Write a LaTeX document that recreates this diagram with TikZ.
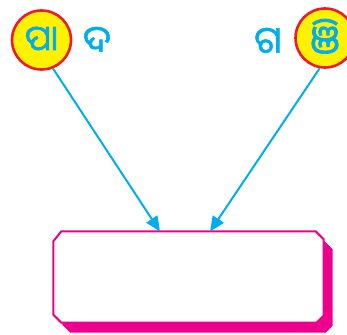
\documentclass[tikz,border=0pt]{standalone}
\usepackage{fontspec}
\newfontfamily\oriya[Script=Oriya,AutoFakeBold=1.6]{Noto Sans Oriya UI}
\usetikzlibrary{arrows.meta}
\definecolor{cy}{HTML}{00AEEF}
\definecolor{mg}{HTML}{EC008C}
\definecolor{rd}{HTML}{ED1C24}
\definecolor{yl}{HTML}{FFF200}
\tikzset{
  ball/.style={circle, draw=rd, fill=yl, line width=2.6pt, minimum size=59pt, inner sep=0pt, text=cy, font=\oriya\bfseries\fontsize{35}{35}\selectfont},
  bigball/.style={ball, font=\oriya\bfseries\fontsize{40}{40}\selectfont},
  letter/.style={text=cy, inner sep=0pt, font=\oriya\bfseries\fontsize{37}{37}\selectfont},
  link/.style={draw=cy, line width=2pt, -{Triangle[length=15pt,width=13pt]}},
  frame/.style={inner sep=0pt, minimum width=270pt, minimum height=91pt},
  framepath/.style={draw=mg, line width=2pt, fill=white, line join=miter},
  shadowpath/.style={fill=mg, transform canvas={shift={(9pt,-10pt)}}}
}
\newcommand\chamfpath[1]{([xshift=8pt]#1.north west) -- ([xshift=-8pt]#1.north east) -- ([yshift=-8pt]#1.north east) -- ([yshift=7pt]#1.south east) -- ([xshift=-7pt]#1.south east) -- ([xshift=8pt]#1.south west) -- ([yshift=8pt]#1.south west) -- ([yshift=-10pt]#1.north west) -- cycle}
\begin{document}
\begin{tikzpicture}[x=1pt,y=-1pt]
\useasboundingbox (0,0) rectangle (347,334);
\node[ball] (lc) at (41.5,40) {ପା};
\node[bigball] (rc) at (325,38) {ଞି};
\node[letter] (d) at (97,41) {ଦ};
\node[letter] (g) at (268,42) {ଗ};
\node[frame] (box) at (188.5,277) {};
\path[shadowpath] \chamfpath{box};
\path[framepath] \chamfpath{box};
\coordinate (t1) at (160,231.5);
\coordinate (t2) at (210,231.5);
\draw[link] (lc.-68) -- (t1);
\draw[link] (rc.-100) -- (t2);
\end{tikzpicture}
\end{document}
